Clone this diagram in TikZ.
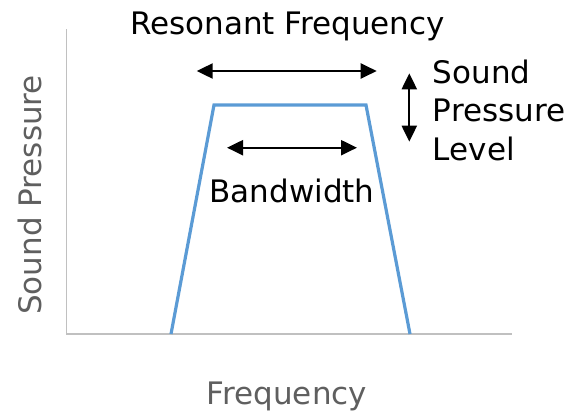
\documentclass[tikz,border=0pt]{standalone}
\usepackage{fontspec}
\setmainfont{DejaVu Sans}
\usetikzlibrary{arrows.meta}
\definecolor{curveblue}{HTML}{5B9BD5}
\definecolor{axisgray}{HTML}{C0C0C0}
\definecolor{labelgray}{HTML}{5F5F5F}
\tikzset{
  axisline/.style={draw=axisgray, line width=1.5pt},
  curveline/.style={draw=curveblue, line width=3.2pt, line join=miter},
  dimarrow/.style={draw=black, line width=2.2pt, {Triangle[length=16pt,width=15pt]}-{Triangle[length=16pt,width=15pt]}},
  blacklabel/.style={inner sep=0pt, font=\fontsize{31}{38.3}\selectfont, text=black},
  graylabel/.style={inner sep=0pt, font=\fontsize{31}{38}\selectfont, text=labelgray}
}
\begin{document}
\begin{tikzpicture}[x=1pt,y=-1pt]
\useasboundingbox (0,0) rectangle (581,413);
% axes
\coordinate (ytop) at (66.7,29);
\coordinate (origin) at (66.7,334);
\coordinate (xend) at (512.3,334);
\draw[axisline] (ytop) -- (origin) -- (xend);
% trapezoid curve
\coordinate (bl) at (171,334);
\coordinate (tl) at (214,105);
\coordinate (tr) at (366,105);
\coordinate (br) at (410,334);
\draw[curveline] (bl) -- (tl) -- (tr) -- (br);
% arrows
\coordinate (rfL) at (196.7,71);
\coordinate (rfR) at (376.7,71);
\draw[dimarrow] (rfL) -- (rfR);
\coordinate (bwL) at (227,147.7);
\coordinate (bwR) at (357,147.7);
\draw[dimarrow] (bwL) -- (bwR);
\coordinate (splT) at (409.3,73.3);
\coordinate (splB) at (409.3,141.7);
\draw[dimarrow] (splT) -- (splB);
% labels
\node[blacklabel, anchor=base] (rf) at (287.5,34.3) {Resonant Frequency};
\node[blacklabel, anchor=base] (bw) at (292,202.7) {Bandwidth};
\node[blacklabel, anchor=base west, align=left] (spl) at (432.7,160) {Sound\\Pressure\\Level};
\node[graylabel, anchor=base] (xl) at (287,404) {Frequency};
\node[graylabel, anchor=base, rotate=90] (yl) at (41.7,195) {Sound Pressure};
\end{tikzpicture}
\end{document}
